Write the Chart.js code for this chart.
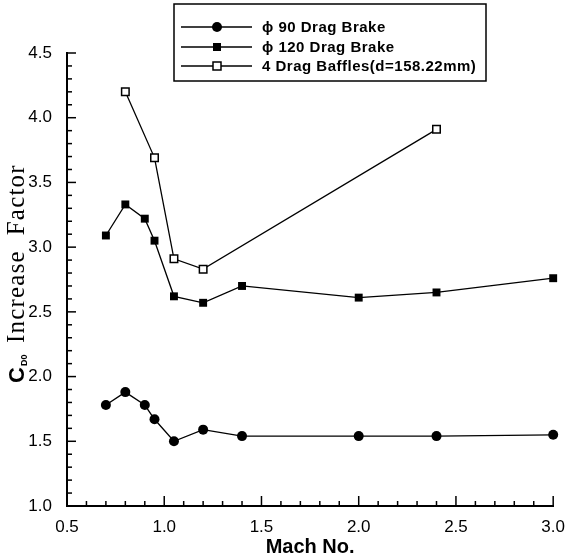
<!DOCTYPE html>
<html>
<head>
<meta charset="utf-8">
<script src="https://cdn.jsdelivr.net/npm/chart.js@4.4.0/dist/chart.umd.min.js"></script>
<style>
  body { margin: 0; background: #fff; }
</style>
</head>
<body>
<canvas id="chart" width="568" height="557"></canvas>
<script>
// Mach numbers tested
const machBrake = [0.7, 0.8, 0.9, 0.95, 1.05, 1.2, 1.4, 2.0, 2.4, 3.0];
const machBaffle = [0.8, 0.95, 1.05, 1.2, 2.4];

// CD0 increase factor per configuration
const brake90 = [1.78, 1.88, 1.78, 1.67, 1.50, 1.59, 1.54, 1.54, 1.54, 1.55];
const brake120 = [3.09, 3.33, 3.22, 3.05, 2.62, 2.57, 2.70, 2.61, 2.65, 2.76];
const baffles = [4.20, 3.69, 2.91, 2.83, 3.91];

const seriesLabels = ['\u03d5 90 Drag Brake', '\u03d5 120 Drag Brake', '4 Drag Baffles(d=158.22mm)'];

const xRange = [0.5, 3.0];
const yRange = [1.0, 4.5];
const minorStep = 0.1;
const majorStep = 0.5;

function toPoints(xs, ys) {
    return xs.map((x, i) => ({ x: x, y: ys[i] }));
}

function isMajor(v) {
    const k = v / majorStep;
    return Math.abs(k - Math.round(k)) < 1e-6;
}

const sansFont = '"Liberation Sans", Arial, sans-serif';
const serifFont = '"Liberation Serif", "Times New Roman", serif';

// tick marks pointing into the plot, long at 0.5 steps
const innerTicks = {
    id: 'innerTicks',
    afterDatasetsDraw(chart) {
        const ctx = chart.ctx;
        const area = chart.chartArea;
        const xs = chart.scales.x;
        const ys = chart.scales.y;
        ctx.save();
        ctx.strokeStyle = '#000';
        ctx.lineWidth = 1.5;
        xs.ticks.forEach(t => {
            const px = xs.getPixelForValue(t.value);
            const len = isMajor(t.value) ? 10 : 5;
            ctx.beginPath();
            ctx.moveTo(px, area.bottom);
            ctx.lineTo(px, area.bottom - len);
            ctx.stroke();
        });
        ys.ticks.forEach(t => {
            const py = ys.getPixelForValue(t.value);
            const len = isMajor(t.value) ? 9 : 5;
            ctx.beginPath();
            ctx.moveTo(area.left, py);
            ctx.lineTo(area.left + len, py);
            ctx.stroke();
        });
        ctx.restore();
    }
};

// axis titles (y title mixes a bold symbol with a serif caption)
const axisTitles = {
    id: 'axisTitles',
    afterDraw(chart) {
        const ctx = chart.ctx;
        const area = chart.chartArea;
        ctx.save();
        ctx.fillStyle = '#000';
        ctx.font = 'bold 20px ' + sansFont;
        ctx.textAlign = 'center';
        ctx.textBaseline = 'alphabetic';
        ctx.fillText('Mach No.', (area.left + area.right) / 2, 553);

        ctx.translate(24, 383);
        ctx.rotate(-Math.PI / 2);
        ctx.textAlign = 'left';
        ctx.font = 'bold 22px ' + sansFont;
        ctx.fillText('C', 0, 0);
        let x = ctx.measureText('C').width;
        ctx.font = 'bold 9px ' + sansFont;
        ctx.fillText('D0', x + 1, 3);
        ctx.font = '25px ' + serifFont;
        ctx.letterSpacing = '1.2px';
        ctx.fillText('Increase  Factor', 40, 0);
        ctx.restore();
    }
};

// boxed legend drawn inside the top of the plot
const boxLegend = {
    id: 'boxLegend',
    afterDraw(chart) {
        const ctx = chart.ctx;
        const box = { left: 174, top: 4, right: 486, bottom: 81 };
        const rows = [27, 47, 66];
        ctx.save();
        ctx.fillStyle = '#fff';
        ctx.fillRect(box.left, box.top, box.right - box.left, box.bottom - box.top);
        ctx.strokeStyle = '#000';
        ctx.lineWidth = 1.5;
        ctx.strokeRect(box.left, box.top, box.right - box.left, box.bottom - box.top);

        chart.data.datasets.forEach((ds, i) => {
            const y = rows[i];
            ctx.strokeStyle = '#000';
            ctx.lineWidth = 1.3;
            ctx.beginPath();
            ctx.moveTo(181, y);
            ctx.lineTo(252, y);
            ctx.stroke();
            const mx = 217;
            if (ds.pointStyle === 'circle') {
                ctx.fillStyle = '#000';
                ctx.beginPath();
                ctx.arc(mx, y, 5, 0, Math.PI * 2);
                ctx.fill();
            } else if (ds.pointBackgroundColor === '#000') {
                ctx.fillStyle = '#000';
                ctx.fillRect(mx - 4, y - 4, 8, 8);
            } else {
                ctx.fillStyle = '#fff';
                ctx.fillRect(mx - 4, y - 4, 8, 8);
                ctx.lineWidth = 1.5;
                ctx.strokeRect(mx - 4, y - 4, 8, 8);
            }
            ctx.fillStyle = '#000';
            ctx.font = 'bold 15px ' + sansFont;
            ctx.letterSpacing = '0.5px';
            ctx.textAlign = 'left';
            ctx.textBaseline = 'middle';
            ctx.fillText(ds.label, 262, y + 1);
        });
        ctx.restore();
    }
};

function tickLabel(v) {
    return isMajor(v) ? v.toFixed(1) : '';
}

const ctx = document.getElementById('chart').getContext('2d');
new Chart(ctx, {
    type: 'line',
    data: {
        datasets: [
            {
                label: seriesLabels[0],
                data: toPoints(machBrake, brake90),
                borderColor: '#000',
                borderWidth: 1.3,
                pointStyle: 'circle',
                pointRadius: 5,
                pointBackgroundColor: '#000',
                pointBorderColor: '#000',
                pointBorderWidth: 0,
                clip: false
            },
            {
                label: seriesLabels[1],
                data: toPoints(machBrake, brake120),
                borderColor: '#000',
                borderWidth: 1.3,
                pointStyle: 'rect',
                pointRadius: 5.6,
                pointBackgroundColor: '#000',
                pointBorderColor: '#000',
                pointBorderWidth: 0,
                clip: false
            },
            {
                label: seriesLabels[2],
                data: toPoints(machBaffle, baffles),
                borderColor: '#000',
                borderWidth: 1.3,
                pointStyle: 'rect',
                pointRadius: 5.3,
                pointBackgroundColor: '#fff',
                pointBorderColor: '#000',
                pointBorderWidth: 1.5,
                clip: false
            }
        ]
    },
    options: {
        responsive: false,
        animation: false,
        events: [],
        layout: { padding: { top: 53, right: 14, left: 0, bottom: 0 } },
        plugins: {
            legend: { display: false },
            tooltip: { enabled: false }
        },
        scales: {
            x: {
                type: 'linear',
                min: xRange[0],
                max: xRange[1],
                grid: { display: false },
                border: { display: true, color: '#000', width: 2 },
                ticks: {
                    stepSize: minorStep,
                    autoSkip: false,
                    maxRotation: 0,
                    padding: 3,
                    color: '#000',
                    font: { family: sansFont, size: 17 },
                    callback: tickLabel
                },
                afterFit: s => { s.height = 51; }
            },
            y: {
                type: 'linear',
                min: yRange[0],
                max: yRange[1],
                grid: { display: false },
                border: { display: true, color: '#000', width: 2 },
                ticks: {
                    stepSize: minorStep,
                    autoSkip: false,
                    padding: 7,
                    color: '#000',
                    font: { family: sansFont, size: 17 },
                    callback: tickLabel
                },
                afterFit: s => { s.width = 67; }
            }
        }
    },
    plugins: [innerTicks, axisTitles, boxLegend]
});
</script>
</body>
</html>
